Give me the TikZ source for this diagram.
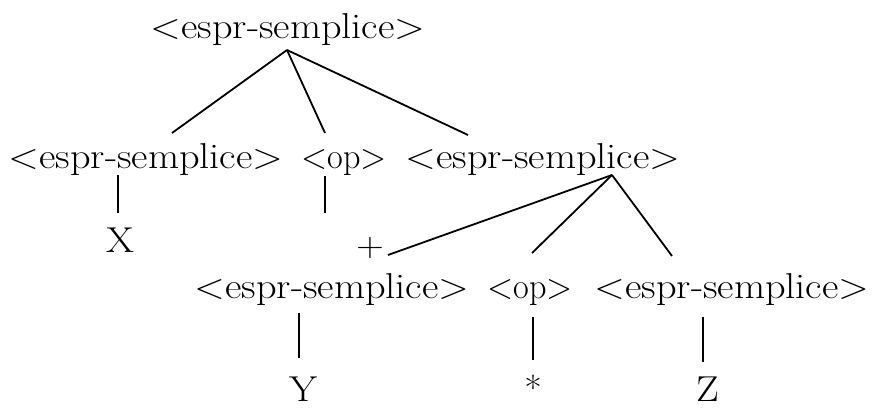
\documentclass[tikz,border=0pt]{standalone}
\usepackage{fontspec}
\setmainfont{Latin Modern Roman}[FakeStretch=1.12]
\begin{document}
\begin{tikzpicture}[x=1pt,y=-1pt,
  lbl/.style={inner sep=0pt, anchor=base, font=\fontsize{36}{38}\selectfont},
  opl/.style={inner sep=0pt, anchor=base, font=\fontsize{36}{38}\selectfont\addfontfeatures{FakeStretch=0.95}},
  small/.style={inner sep=0pt, anchor=base, font=\fontsize{34}{36}\selectfont},
  edge/.style={line width=1.8pt},
  stem/.style={line width=1.1pt}]
\useasboundingbox (0,0) rectangle (872,407);
% nodes
\node[lbl] (root) at (288,38) {<espr-semplice>};
\node[lbl] (e1) at (146,168) {<espr-semplice>};
\node[opl] (op1) at (344,168) {<op>};
\node[lbl] (e2) at (543,168) {<espr-semplice>};
\node[lbl] (x) at (120,252) {X};
\node[small] (plus) at (370,256) {+};
\node[lbl] (e3) at (332,298) {<espr-semplice>};
\node[opl] (op2) at (530,298) {<op>};
\node[lbl] (e4) at (732,298) {<espr-semplice>};
\node[lbl] (y) at (303,401) {Y};
\node[small] (star) at (533,400) {*};
\node[lbl] (z) at (708,401) {Z};
% connector end points
\coordinate (rA) at (287,50);
\coordinate (rL) at (172,133);
\coordinate (rM) at (325,133);
\coordinate (rR) at (468,135);
\coordinate (e1s) at (118,175);
\coordinate (xt) at (118,213);
\coordinate (op1s) at (325,176);
\coordinate (plt) at (325,213);
\coordinate (e2A) at (612,175);
\coordinate (e3t) at (388,255);
\coordinate (op2t) at (532,253);
\coordinate (e4t) at (672,256);
\coordinate (e3s) at (299,313);
\coordinate (yt) at (299,358);
\coordinate (op2s) at (533,317);
\coordinate (start) at (533,360);
\coordinate (e4s) at (703,317);
\coordinate (zt) at (703,362);
% connectors
\draw[edge] (rA) -- (rL);
\draw[edge] (rA) -- (rM);
\draw[edge] (rA) -- (rR);
\draw[stem] (e1s) -- (xt);
\draw[stem] (op1s) -- (plt);
\draw[edge] (e2A) -- (e3t);
\draw[edge] (e2A) -- (op2t);
\draw[edge] (e2A) -- (e4t);
\draw[stem] (e3s) -- (yt);
\draw[stem] (op2s) -- (start);
\draw[stem] (e4s) -- (zt);
\end{tikzpicture}
\end{document}
